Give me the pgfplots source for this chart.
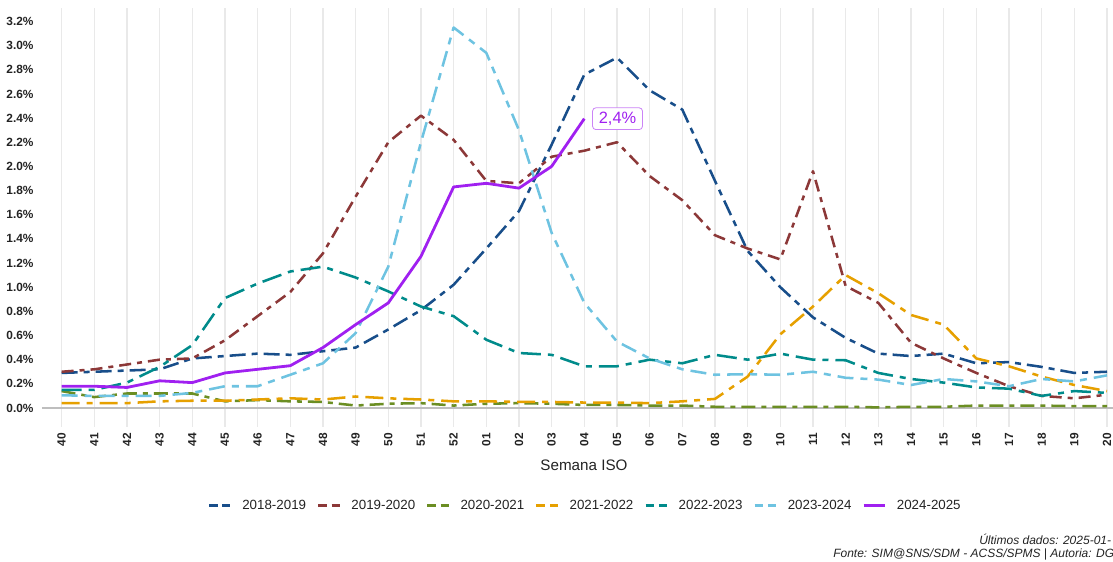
\documentclass[border=0pt]{standalone}
\usepackage{fontspec}
\setmainfont{Liberation Sans}
\usepackage{pgfplots}
\pgfplotsset{compat=1.18}

\definecolor{s18}{RGB}{24,78,138}
\definecolor{s19}{RGB}{140,56,56}
\definecolor{s20}{RGB}{107,142,35}
\definecolor{s21}{RGB}{230,160,0}
\definecolor{s22}{RGB}{0,139,139}
\definecolor{s23}{RGB}{110,195,225}
\definecolor{s24}{RGB}{160,32,240}
\definecolor{gridgray}{RGB}{233,233,233}
\definecolor{zerogray}{RGB}{190,190,190}
\definecolor{txt}{RGB}{35,35,35}

\newcommand\tickfont{\fontsize{8.9}{10}\selectfont\bfseries}

% semana (0 = 40 ... 12 = 52, 13 = 01 ... 32 = 20), taxa em %
\pgfplotstableread{
i  a1819 a1920 a2021 a2122 a2223 a2324
0  0.29  0.30  0.14  0.04  0.15  0.105
1  0.30  0.32  0.09  0.04  0.15  0.10
2  0.31  0.36  0.12  0.04  0.21  0.10
3  0.32  0.40  0.12  0.055 0.34  0.10
4  0.41  0.41  0.12  0.06  0.52  0.125
5  0.43  0.56  0.055 0.06  0.91  0.18
6  0.45  0.76  0.065 0.07  1.03  0.18
7  0.44  0.96  0.055 0.08  1.13  0.275
8  0.47  1.28  0.05  0.07  1.17  0.37
9  0.50  1.75  0.02  0.095 1.08  0.62
10 0.65  2.20  0.035 0.08  0.965 1.17
11 0.81  2.42  0.04  0.07  0.84  2.20
12 1.02  2.22  0.02  0.055 0.76  3.15
13 1.32  1.88  0.035 0.055 0.565 2.94
14 1.63  1.86  0.04  0.05  0.455 2.30
15 2.18  2.08  0.035 0.05  0.44  1.45
16 2.76  2.13  0.025 0.045 0.345 0.87
17 2.90  2.20  0.025 0.045 0.345 0.55
18 2.63  1.92  0.02  0.04  0.40  0.41
19 2.47  1.72  0.02  0.055 0.37  0.32
20 1.88  1.43  0.01  0.075 0.44  0.275
21 1.30  1.32  0.01  0.26  0.40  0.28
22 1.00  1.23  0.01  0.61  0.45  0.275
23 0.75  1.96  0.01  0.84  0.40  0.30
24 0.58  1.01  0.01  1.10  0.395 0.25
25 0.45  0.87  0.005 0.95  0.29  0.235
26 0.43  0.54  0.01  0.77  0.24  0.19
27 0.45  0.41  0.01  0.69  0.21  0.24
28 0.37  0.29  0.02  0.41  0.17  0.22
29 0.38  0.18  0.02  0.345 0.16  0.18
30 0.34  0.10  0.02  0.26  0.10  0.24
31 0.29  0.08  0.015 0.19  0.14  0.22
32 0.30  0.11  0.015 0.14  0.125 0.27
}\seasons

\pgfplotstableread{
i  a2425
0  0.18
1  0.18
2  0.17
3  0.225
4  0.21
5  0.29
6  0.32
7  0.35
8  0.50
9  0.69
10 0.87
11 1.255
12 1.83
13 1.86
14 1.82
15 2.00
16 2.395
}\current

\begin{document}
\begin{tikzpicture}
\begin{axis}[
  at={(31.5pt,100.5pt)}, anchor=south west,
  scale only axis, width=813.45pt, height=313.9pt,
  xmin=-0.6, xmax=32.6, ymin=-0.1575, ymax=3.3075,
  axis line style={draw=none}, tick style={draw=none},
  major tick length=0pt,
  xmajorgrids, ymajorgrids=false,
  major grid style={gridgray, line width=1.1pt},
  xtick={0,...,32},
  xticklabels={40,41,42,43,44,45,46,47,48,49,50,51,52,01,02,03,04,05,06,07,08,09,10,11,12,13,14,15,16,17,18,19,20},
  xticklabel style={rotate=90, anchor=east, inner sep=0pt, font=\tickfont, text=txt},
  xticklabel shift=4.3pt,
  ytick={0,0.2,0.4,0.6,0.8,1.0,1.2,1.4,1.6,1.8,2.0,2.2,2.4,2.6,2.8,3.0,3.2},
  yticklabel={\pgfmathprintnumber[fixed,fixed zerofill,precision=1]{\tick}\%},
  yticklabel style={anchor=east, inner sep=0pt, font=\tickfont, text=txt},
  yticklabel shift=6.2pt,
  /pgf/number format/assume math mode=true,
  extra y ticks={0}, extra y tick labels={},
  extra y tick style={ymajorgrids=true, xmajorgrids=false, major grid style={zerogray, line width=1.1pt}},
  legend columns=7,
  legend image code/.code={\draw[#1] (0pt,0pt) -- (16pt,0pt);},
  legend style={at={(0.5,-0.188)}, anchor=center, draw=none, fill=none,
    font=\fontsize{10}{12}\selectfont, text=txt,
    nodes={inner sep=0pt},
    /tikz/every odd column/.append style={column sep=8pt},
    /tikz/every even column/.append style={column sep=8.2pt}},
  every axis plot/.append style={line width=1.9pt, line join=round, forget plot},
]
\addplot[s18, dash pattern=on 12pt off 4.5pt on 4.5pt off 4.5pt] table[x=i, y=a1819] {\seasons};
\addplot[s19, dash pattern=on 9pt off 4.5pt on 3.75pt off 4.5pt] table[x=i, y=a1920] {\seasons};
\addplot[s20, dash pattern=on 10.5pt off 4.5pt on 3.75pt off 4.5pt] table[x=i, y=a2021] {\seasons};
\addplot[s21, dash pattern=on 13.5pt off 5.25pt on 4.5pt off 5.25pt] table[x=i, y=a2122] {\seasons};
\addplot[s22, dash pattern=on 15pt off 5.25pt on 4.5pt off 5.25pt] table[x=i, y=a2223] {\seasons};
\addplot[s23, dash pattern=on 12pt off 5.25pt on 5.25pt off 5.25pt] table[x=i, y=a2324] {\seasons};
\addplot[s24, line width=2.1pt] table[x=i, y=a2425] {\current};

\addlegendimage{s18, line width=1.8pt, dash pattern=on 6.5pt off 3.5pt}
\addlegendentry{2018-2019}
\addlegendimage{s19, line width=1.8pt, dash pattern=on 6.5pt off 3.5pt}
\addlegendentry{2019-2020}
\addlegendimage{s20, line width=1.8pt, dash pattern=on 6.5pt off 3.5pt}
\addlegendentry{2020-2021}
\addlegendimage{s21, line width=1.8pt, dash pattern=on 6.5pt off 3.5pt}
\addlegendentry{2021-2022}
\addlegendimage{s22, line width=1.8pt, dash pattern=on 6.5pt off 3.5pt}
\addlegendentry{2022-2023}
\addlegendimage{s23, line width=1.8pt, dash pattern=on 6.5pt off 3.5pt}
\addlegendentry{2023-2024}
\addlegendimage{s24, line width=1.8pt}
\addlegendentry{2024-2025}

\node[anchor=west, xshift=5.9pt, draw=s24!55, line width=0.6pt, fill=white,
  rounded corners=2.5pt, inner xsep=4.7pt, inner ysep=3.1pt, text=s24,
  font=\fontsize{12.3}{14}\selectfont] at (axis cs:16,2.395) {2,4\%};
\end{axis}

\node[font=\fontsize{11.4}{13}\selectfont, text=txt] at (438pt,72pt) {Semana ISO};
\node[anchor=base west, inner sep=0pt, font=\fontsize{9}{11}\selectfont\itshape, text=txt]
  at (734.25pt,12.5pt) {Últimos dados: 2025-01-};
\node[anchor=base west, inner sep=0pt, font=\fontsize{9}{11}\selectfont\itshape, text=txt]
  at (624.75pt,2.8pt) {Fonte: SIM@SNS/SDM - ACSS/SPMS | Autoria: DGS};

\pgfresetboundingbox
\useasboundingbox (0pt,0pt) rectangle (834.75pt,420.75pt);
\end{tikzpicture}
\end{document}
